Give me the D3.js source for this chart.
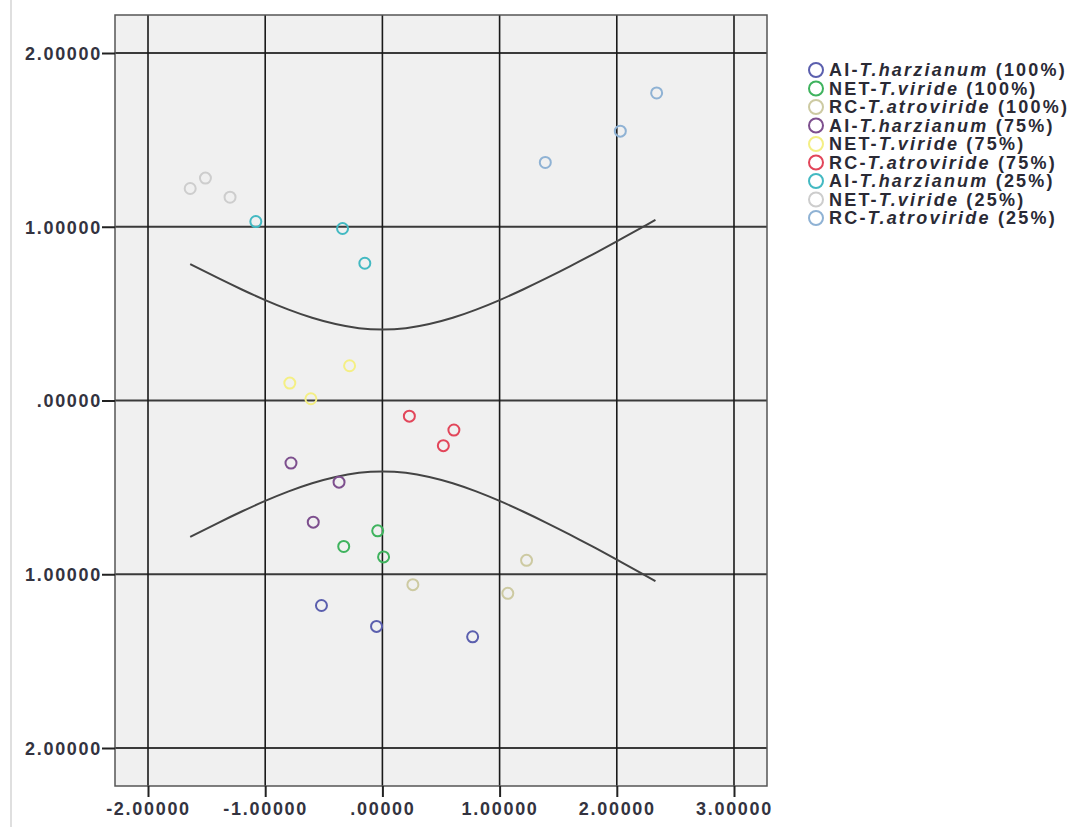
<!DOCTYPE html>
<html lang="en">
<head>
  <meta charset="UTF-8">
  <title>Scatter with confidence band</title>
  <style>
    body { margin: 0; background: #fff; font-family: Arial, "Liberation Sans", sans-serif; }
    .tick text { font-weight: bold; fill: #333340; font-size: 18px; letter-spacing: 1.7px; }
    .legend text { font-weight: bold; fill: #2a2a35; font-size: 18px; letter-spacing: 2.2px; }
  </style>
</head>
<body>
  <svg width="1076" height="827"></svg>
  <script src="https://d3js.org/d3.v7.min.js"></script>
  <script>
    // groups in legend order
    const groups = [
      "AI-|T.harzianum| (100%)", "NET-|T.viride| (100%)", "RC-|T.atroviride| (100%)",
      "AI-|T.harzianum| (75%)", "NET-|T.viride| (75%)", "RC-|T.atroviride| (75%)",
      "AI-|T.harzianum| (25%)", "NET-|T.viride| (25%)", "RC-|T.atroviride| (25%)"
    ];
    const colors = ["#5b5fae", "#3fb35e", "#cdcaa2", "#7d4f8e", "#f4ef84", "#e2465a", "#43b9c2", "#cdcdcd", "#8fb2d4"];

    // three replicates per group (x, y)
    const pointX = [
      [-0.52, -0.05, 0.77],
      [-0.04, -0.33, 0.01],
      [0.26, 1.07, 1.23],
      [-0.78, -0.37, -0.59],
      [-0.79, -0.61, -0.28],
      [0.23, 0.61, 0.52],
      [-1.08, -0.34, -0.15],
      [-1.64, -1.51, -1.30],
      [1.39, 2.03, 2.34]
    ];
    const pointY = [
      [-1.18, -1.30, -1.36],
      [-0.75, -0.84, -0.90],
      [-1.06, -1.11, -0.92],
      [-0.36, -0.47, -0.70],
      [0.10, 0.01, 0.20],
      [-0.09, -0.17, -0.26],
      [1.03, 0.99, 0.79],
      [1.22, 1.28, 1.17],
      [1.37, 1.55, 1.77]
    ];

    // band curves
    const bandX = [-1.64, -1.4, -1.2, -1.0, -0.8, -0.6, -0.4, -0.2, 0, 0.2, 0.4, 0.6, 0.8, 1.0, 1.2, 1.4, 1.6, 1.8, 2.0, 2.2, 2.33];
    const bandUpper = [0.785, 0.704, 0.639, 0.578, 0.523, 0.476, 0.440, 0.416, 0.408, 0.416, 0.440, 0.476, 0.523, 0.578, 0.639, 0.704, 0.772, 0.843, 0.916, 0.990, 1.040];
    const bandLower = [-0.785, -0.704, -0.639, -0.578, -0.523, -0.476, -0.440, -0.416, -0.408, -0.416, -0.440, -0.476, -0.523, -0.578, -0.639, -0.704, -0.772, -0.843, -0.916, -0.990, -1.040];

    const xTicks = [-2, -1, 0, 1, 2, 3];
    const yTicks = [-2, -1, 0, 1, 2];

    const svg = d3.select("svg");
    const pLeft = 115, pRight = 767, pTop = 15, pBottom = 786;

    const x = d3.scaleLinear().domain([-2.2816, 3.2816]).range([pLeft, pRight]);
    const y = d3.scaleLinear().domain([-2.2187, 2.2187]).range([pBottom, pTop]);

    // faint border line at the far left
    svg.append("line").attr("x1", 11).attr("x2", 11).attr("y1", 0).attr("y2", 827)
      .attr("stroke", "#d4d4d4").attr("stroke-width", 1.5);

    svg.append("rect")
      .attr("x", pLeft).attr("y", pTop)
      .attr("width", pRight - pLeft).attr("height", pBottom - pTop)
      .attr("fill", "#f0f0f0");

    // grid
    svg.append("g").selectAll("line").data(yTicks).join("line")
      .attr("x1", pLeft).attr("x2", pRight)
      .attr("y1", d => y(d)).attr("y2", d => y(d))
      .attr("stroke", "#3a3a3a").attr("stroke-width", 2);
    svg.append("g").selectAll("line").data(xTicks).join("line")
      .attr("y1", pTop).attr("y2", pBottom)
      .attr("x1", d => x(d)).attr("x2", d => x(d))
      .attr("stroke", "#1a1a1a").attr("stroke-width", 1.6);

    svg.append("rect")
      .attr("x", pLeft).attr("y", pTop)
      .attr("width", pRight - pLeft).attr("height", pBottom - pTop)
      .attr("fill", "none").attr("stroke", "#555").attr("stroke-width", 1.5);

    // axes (SPSS-style labels, no leading zero)
    const fmtX = d => d3.format(".5f")(d).replace("\u2212", "-").replace(/^(-?)0\./, "$1.");
    const fmtY = d => d3.format(".5f")(Math.abs(d)).replace(/^0\./, ".");

    const xAxis = svg.append("g")
      .attr("transform", `translate(0,${pBottom})`)
      .call(d3.axisBottom(x).tickValues(xTicks).tickFormat(fmtX).tickSize(11).tickPadding(5));
    const yAxis = svg.append("g")
      .attr("transform", `translate(${pLeft},0)`)
      .call(d3.axisLeft(y).tickValues(yTicks).tickFormat(fmtY).tickSize(13).tickPadding(0));
    [xAxis, yAxis].forEach(a => {
      a.select(".domain").remove();
      a.selectAll(".tick line").attr("stroke", "#222").attr("stroke-width", 2);
      a.selectAll(".tick text").attr("font-family", null).attr("font-size", null);
    });
    yAxis.selectAll(".tick text").attr("dy", "0.36em");

    // band curves
    const line = d3.line().x(d => x(d[0])).y(d => y(d[1])).curve(d3.curveNatural);
    [bandUpper, bandLower].forEach(vals => {
      svg.append("path")
        .datum(bandX.map((v, i) => [v, vals[i]]))
        .attr("d", line)
        .attr("fill", "none").attr("stroke", "#444").attr("stroke-width", 2);
    });

    // points
    const pts = [];
    groups.forEach((g, gi) => pointX[gi].forEach((v, i) => pts.push({ x: v, y: pointY[gi][i], g: gi })));
    svg.append("g").selectAll("circle").data(pts).join("circle")
      .attr("cx", d => x(d.x)).attr("cy", d => y(d.y)).attr("r", 5.5)
      .attr("fill", "none").attr("stroke", d => colors[d.g]).attr("stroke-width", 2);

    // legend
    const legend = svg.append("g").attr("class", "legend").attr("transform", "translate(816,70)");
    const row = legend.selectAll("g").data(groups).join("g")
      .attr("transform", (d, i) => `translate(0,${i * 18.5})`);
    row.append("circle").attr("r", 7).attr("fill", "none")
      .attr("stroke", (d, i) => colors[i]).attr("stroke-width", 2);
    const txt = row.append("text").attr("x", 13).attr("dy", "0.36em");
    txt.each(function (d) {
      const parts = d.split("|");
      const t = d3.select(this);
      t.append("tspan").text(parts[0]);
      t.append("tspan").attr("font-style", "italic").text(parts[1]);
      t.append("tspan").text(parts[2]);
    });
  </script>
</body>
</html>
